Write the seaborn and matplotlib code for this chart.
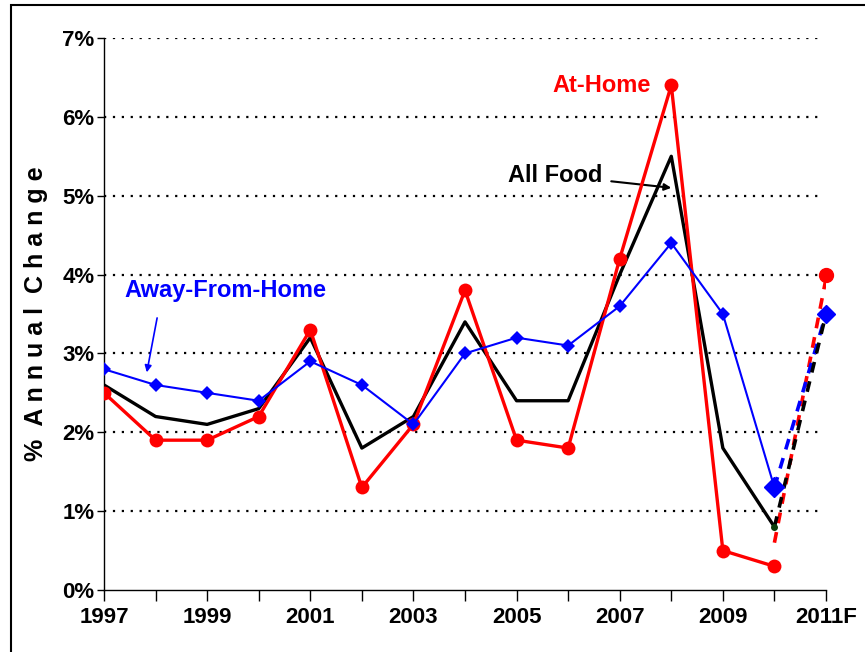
import numpy as np
import pandas as pd
import matplotlib
matplotlib.use('Agg')
import matplotlib.pyplot as plt
import seaborn as sns

# Data
years = [1997, 1998, 1999, 2000, 2001, 2002, 2003, 2004, 2005, 2006, 2007, 2008, 2009, 2010]
at_home = [2.5, 1.9, 1.9, 2.2, 3.3, 1.3, 2.1, 3.8, 1.9, 1.8, 4.2, 6.4, 0.5, 0.3]
all_food = [2.6, 2.2, 2.1, 2.3, 3.2, 1.8, 2.2, 3.4, 2.4, 2.4, 4.0, 5.5, 1.8, 0.8]
away_home = [2.8, 2.6, 2.5, 2.4, 2.9, 2.6, 2.1, 3.0, 3.2, 3.1, 3.6, 4.4, 3.5, 1.3]

# 2011 forecast segments (2010 -> 2011F)
fc_years = [2010, 2011]
fc_at_home = [0.6, 3.95]
fc_all_food = [0.8, 3.5]
fc_away_home = [1.3, 3.5]
f2011_at_home = 4.0
f2011_away_home = 3.5

y_ticks = [0, 1, 2, 3, 4, 5, 6, 7]
x_tick_labels = ['1997', '1999', '2001', '2003', '2005', '2007', '2009', '2011F']

sns.set_style('white')
FONT = ['Liberation Sans', 'DejaVu Sans']
plt.rcParams['font.family'] = FONT
plt.rcParams['font.weight'] = 'bold'
plt.rcParams['text.color'] = 'black'
plt.rcParams['axes.labelcolor'] = 'black'
plt.rcParams['xtick.color'] = 'black'
plt.rcParams['ytick.color'] = 'black'

df = pd.DataFrame({'year': years, 'At-Home': at_home,
                   'All Food': all_food, 'Away-From-Home': away_home})

fig = plt.figure(figsize=(8.65, 6.52), dpi=100)
ax = fig.add_axes([104 / 865, 1 - 590 / 652, (826 - 104) / 865, (590 - 38) / 652])

# outer frame
fig.patches.append(plt.Rectangle((11 / 865, -0.01), 1.0, 1 - 5 / 652 + 0.01,
                                 transform=fig.transFigure, fill=False,
                                 edgecolor='black', linewidth=1.5))

for v in y_ticks[1:]:
    ax.plot([1997, 2010.93], [v, v], color='black', linestyle=(0, (1, 3)), linewidth=1.6, zorder=1)

sns.lineplot(data=df, x='year', y='All Food', color='black', linewidth=2.4, ax=ax, zorder=3)
ax.plot([2010], [0.8], 'o', color='#0b3d0b', markersize=4, zorder=5)
sns.lineplot(data=df, x='year', y='At-Home', color='red', linewidth=2.4, marker='o',
             markersize=10, markeredgewidth=0, ax=ax, zorder=4)
sns.lineplot(data=df, x='year', y='Away-From-Home', color='blue', linewidth=1.5, marker='D',
             markersize=7, markeredgewidth=0, ax=ax, zorder=5)
ax.plot([2010], [away_home[-1]], 'D', color='blue', markersize=10, zorder=6)

ax.plot(fc_years, fc_at_home, color='red', linewidth=2.6, linestyle=(0, (3, 2.5)), zorder=3)
ax.plot(fc_years, fc_away_home, color='blue', linewidth=2.6, linestyle=(0, (3, 2.5)), zorder=3)
ax.plot(fc_years, fc_all_food, color='black', linewidth=2.6, linestyle=(0, (3, 2.5)), zorder=3)
ax.plot([2011], [f2011_at_home], 'o', color='red', markersize=10, zorder=6, clip_on=False)
ax.plot([2011], [f2011_away_home], 'D', color='blue', markersize=9, zorder=6, clip_on=False)

ax.set_xlim(1997, 2011)
ax.set_ylim(0, 7)
ax.set_yticks(y_ticks)
ax.set_yticklabels([f'{v}%' for v in y_ticks], fontsize=16, fontweight='bold')
ax.set_xticks(range(1997, 2012, 2))
ax.set_xticklabels(x_tick_labels, fontsize=16, fontweight='bold')
ax.set_xticks(range(1998, 2011, 2), minor=True)
ax.tick_params(axis='x', which='both', bottom=True, direction='out', length=8, width=1,
               color='black', pad=4)
ax.tick_params(axis='y', left=True, direction='out', length=5, width=1, color='black', pad=2)
ax.set_xlabel('')
ax.set_ylabel('%  A n n u a l  C h a n g e', fontsize=18, fontweight='bold', labelpad=10)

for s in ['top', 'right']:
    ax.spines[s].set_visible(False)
ax.spines['left'].set_color('black')
ax.spines['bottom'].set_color('black')
ax.spines['left'].set_linewidth(1)
ax.spines['bottom'].set_linewidth(1)

ax.text(2006.65, 6.4, 'At-Home', color='red', fontsize=17, fontweight='bold', ha='center', va='center')
ax.annotate('All Food', xy=(2008.0, 5.1), xytext=(2005.75, 5.26), color='black',
            fontsize=17, fontweight='bold', ha='center', va='center',
            arrowprops=dict(arrowstyle='-|>', color='black', lw=1.5, mutation_scale=10,
                            shrinkA=4, shrinkB=0))
ax.text(1999.35, 3.8, 'Away-From-Home', color='blue', fontsize=17, fontweight='bold',
        ha='center', va='center')
ax.annotate('', xy=(1997.83, 2.76), xytext=(1998.03, 3.45),
            arrowprops=dict(arrowstyle='-|>', color='blue', lw=1.2, mutation_scale=10,
                            shrinkA=0, shrinkB=0))

plt.savefig('out.png', dpi=100, facecolor='white')
plt.close()
